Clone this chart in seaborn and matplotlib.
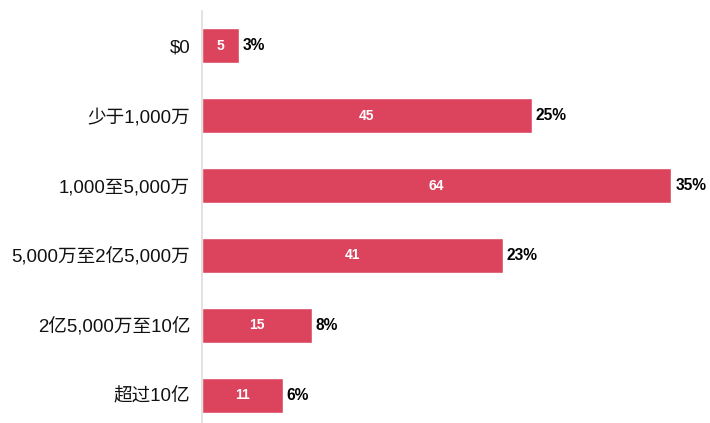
import matplotlib
matplotlib.use("Agg")
import matplotlib.pyplot as plt
import seaborn as sns
import pandas as pd

categories = ["$0", "少于1,000万", "1,000至5,000万", "5,000万至2亿5,000万", "2亿5,000万至10亿", "超过10亿"]
counts = [5, 45, 64, 41, 15, 11]
percents = ["3%", "25%", "35%", "23%", "8%", "6%"]

sns.set_style("white")
plt.rcParams['font.family'] = ['Liberation Sans', 'Noto Sans CJK SC', 'DejaVu Sans']

df = pd.DataFrame({"cat": categories, "count": counts})

fig = plt.figure(figsize=(7.1, 4.23), dpi=100)
ax = fig.add_axes([202/710, 0, 1 - 202/710, 1 - 11/423])
sns.barplot(data=df, x="count", y="cat", orient="h", color="#DC445E",
            saturation=1, width=0.5, ax=ax)
ax.set_xlim(0, 69.3)
ax.set_ylim(5.4, -0.5)
ax.set_xlabel("")
ax.set_ylabel("")
ax.set_xticks([])
for s in ["top", "right", "bottom"]:
    ax.spines[s].set_visible(False)
ax.spines["left"].set_color("#dddddd")
ax.spines["left"].set_linewidth(1.2)
ax.tick_params(axis="y", length=0, pad=8.5, labelsize=13.4, labelcolor="#111111")
for i, (c, p) in enumerate(zip(counts, percents)):
    ax.text(c / 2, i, str(c), ha="center", va="center", color="white",
            fontsize=10, fontweight="bold")
    ax.text(c + 0.55, i, p, ha="left", va="center", color="black",
            fontsize=11.2, fontweight="bold")
fig.savefig("out.png", dpi=100)
